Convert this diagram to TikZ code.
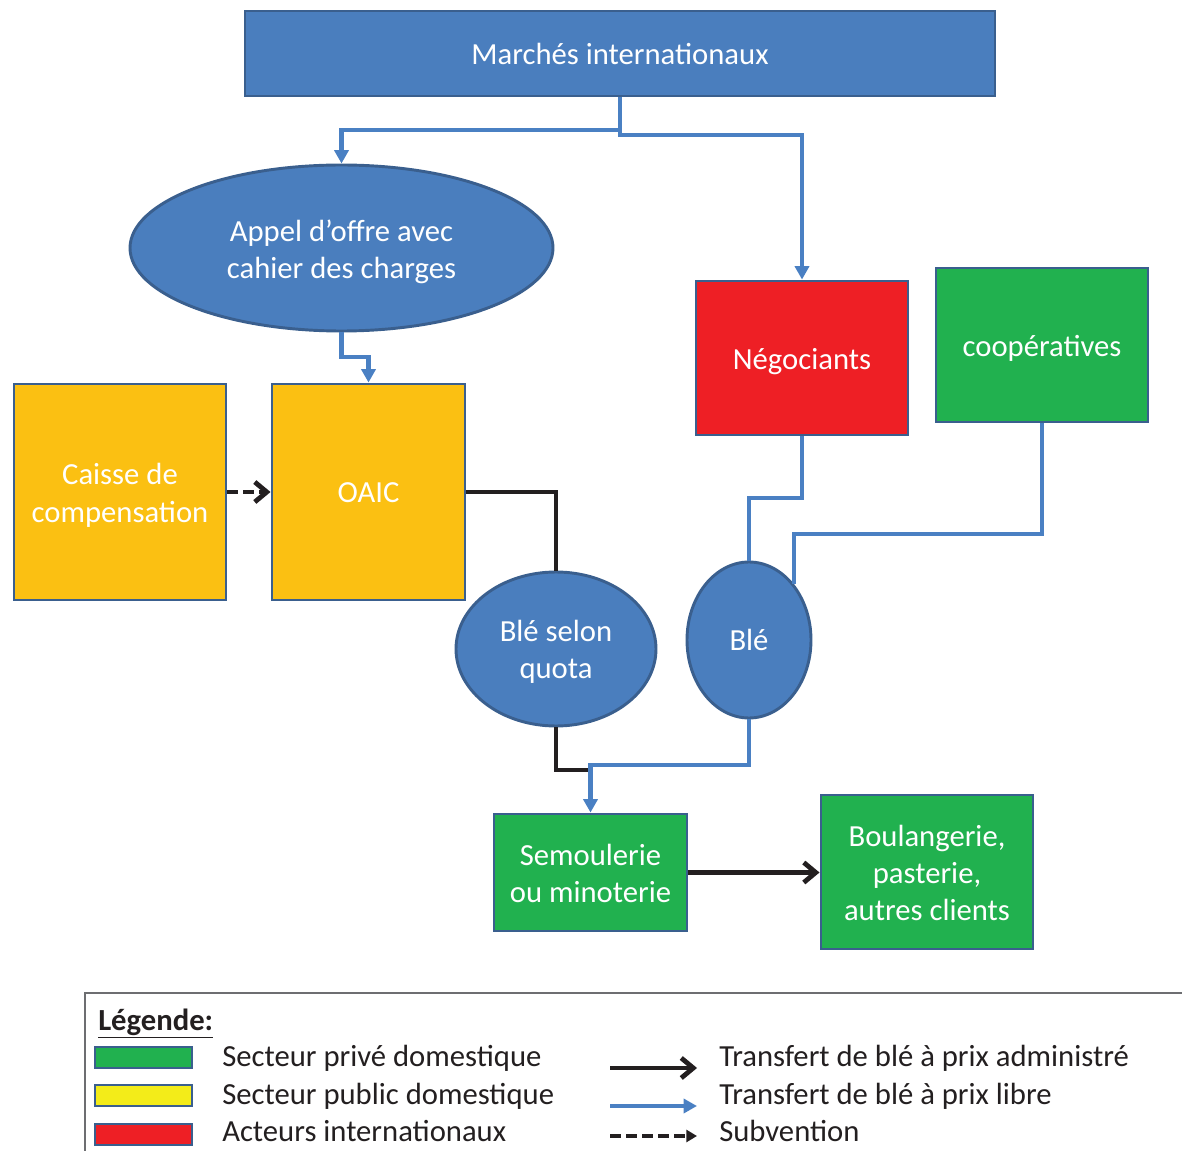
\documentclass[tikz,border=0pt]{standalone}
\usepackage{fontspec}
\setmainfont{Carlito}
\usetikzlibrary{shapes.geometric,arrows.meta}
\definecolor{nblue}{HTML}{4A7EBE}
\definecolor{nborder}{HTML}{3A5F8E}
\definecolor{nyellow}{HTML}{FBC012}
\definecolor{nred}{HTML}{EE1F25}
\definecolor{ngreen}{HTML}{21B14F}
\definecolor{lyellow}{HTML}{F3EC19}
\definecolor{lblue}{HTML}{4A80C3}
\definecolor{ink}{HTML}{231F20}
\definecolor{lgrey}{HTML}{6D6E71}
\newcommand\dnshift[2]{\raisebox{-#1}[\height][\depth]{\begin{tabular}{@{}c@{}}#2\end{tabular}}}
\tikzset{
  box/.style={draw=nborder, line width=2.2pt, inner sep=0pt, align=center, text=white,
    font=\fontsize{23}{28}\selectfont},
  oval/.style={box, ellipse, fill=nblue},
  free/.style={draw=lblue, line width=3.3pt},
  freearrow/.style={free, -{Triangle[length=10pt,width=10.5pt]}},
  admin/.style={draw=ink, line width=3.6pt},
  adminarrow/.style={admin, -{Straight Barb[length=9pt,width=15pt]}},
  subv/.style={draw=ink, line width=3.6pt, dash pattern=on 8pt off 4pt},
  subvarrow/.style={subv, -{Straight Barb[length=9pt,width=15pt]}},
  swatch/.style={draw=nborder, line width=2.2pt, minimum width=72.75pt, minimum height=15.75pt, inner sep=0pt},
  legtext/.style={anchor=base west, inner sep=0pt, text=ink, font=\fontsize{23}{28}\selectfont},
}
\begin{document}
\begin{tikzpicture}[x=0.75pt,y=-0.75pt]
\useasboundingbox (0,0) rectangle (1182,1151);

% nodes
\node[box, fill=nblue, minimum width=562.5pt, minimum height=63.75pt] (mar) at (620,53.5) {Marchés internationaux};
\node[oval, minimum width=317.25pt, minimum height=124.5pt] (appel) at (341.5,248) {\dnshift{3.3pt}{Appel d’offre avec\\cahier des charges}};
\node[box, fill=nyellow, minimum width=159pt, minimum height=162pt] (caisse) at (120,492) {\dnshift{3pt}{Caisse de\\compensation}};
\node[box, fill=nyellow, minimum width=144.75pt, minimum height=162pt] (oaic) at (368.5,492) {\dnshift{2.3pt}{OAIC}};
\node[box, fill=nred, minimum width=159pt, minimum height=115.5pt] (neg) at (802,358) {\dnshift{3pt}{Négociants}};
\node[box, fill=ngreen, minimum width=159pt, minimum height=115.5pt] (coop) at (1042,345) {\dnshift{2.8pt}{coopératives}};
\node[oval, minimum width=150pt, minimum height=115.5pt] (quota) at (556,649) {\dnshift{2.6pt}{Blé selon\\quota}};
\node[oval, minimum width=93pt, minimum height=117pt] (ble) at (749,640) {Blé};
\node[box, fill=ngreen, minimum width=144.75pt, minimum height=87.75pt] (semo) at (590.5,872.5) {\dnshift{3pt}{Semoulerie\\ou minoterie}};
\node[box, fill=ngreen, minimum width=159pt, minimum height=115.5pt] (boul) at (927,872) {\dnshift{2.9pt}{Boulangerie,\\pasterie,\\autres clients}};

% connectors
\draw[freearrow] (mar.south) -- (mar.south |- 0,135) -| (neg.north);
\draw[freearrow] (mar.south |- 0,130) -| (appel.north);
\draw[freearrow] (appel.south) -- (appel.south |- 0,357) -| (oaic.north);
\draw[subvarrow] (caisse.east) -- (oaic.west);
\draw[admin] (oaic.east) -| (quota.north);
\draw[free] (neg.south) -- (neg.south |- 0,498) -| (ble.north);
\draw[free] (coop.south) -- (coop.south |- 0,534) -| (ble.north east);
\draw[admin] (quota.south) |- (semo.north |- 0,770);
\draw[freearrow] (ble.south) -- (ble.south |- 0,765) -| (semo.north);
\draw[adminarrow] (semo.east) -- (semo.east -| boul.west);

% legend frame
\coordinate (lf1) at (85,1151);
\coordinate (lf2) at (85,993);
\coordinate (lf3) at (1182,993);
\draw[draw=lgrey, line width=1.1pt] (lf1) -- (lf2) -- (lf3);

\node[legtext, font=\fontsize{23}{28}\selectfont\bfseries] (leg) at (98,1030) {\underline{Légende:}};

\node[swatch, fill=ngreen] (sw1) at (143.5,1057.5) {};
\node[swatch, fill=lyellow] (sw2) at (143.5,1095.5) {};
\node[swatch, fill=nred] (sw3) at (143.5,1134.5) {};
\node[legtext] (t1) at (222,1066) {Secteur privé domestique};
\node[legtext] (t2) at (222,1104) {Secteur public domestique};
\node[legtext] (t3) at (222,1141) {Acteurs internationaux};

\coordinate (a1s) at (610,1068); \coordinate (a1e) at (697,1068);
\coordinate (a2s) at (610,1106); \coordinate (a2e) at (697,1106);
\coordinate (a3s) at (610,1136); \coordinate (a3e) at (697,1136);
\draw[adminarrow] (a1s) -- (a1e);
\draw[freearrow] (a2s) -- (a2e);
\draw[subv, -{Triangle[length=8pt,width=9pt]}] (a3s) -- (a3e);
\node[legtext] (u1) at (719,1066) {Transfert de blé à prix administré};
\node[legtext] (u2) at (719,1104) {Transfert de blé à prix libre};
\node[legtext] (u3) at (719,1141) {Subvention};
\end{tikzpicture}
\end{document}
